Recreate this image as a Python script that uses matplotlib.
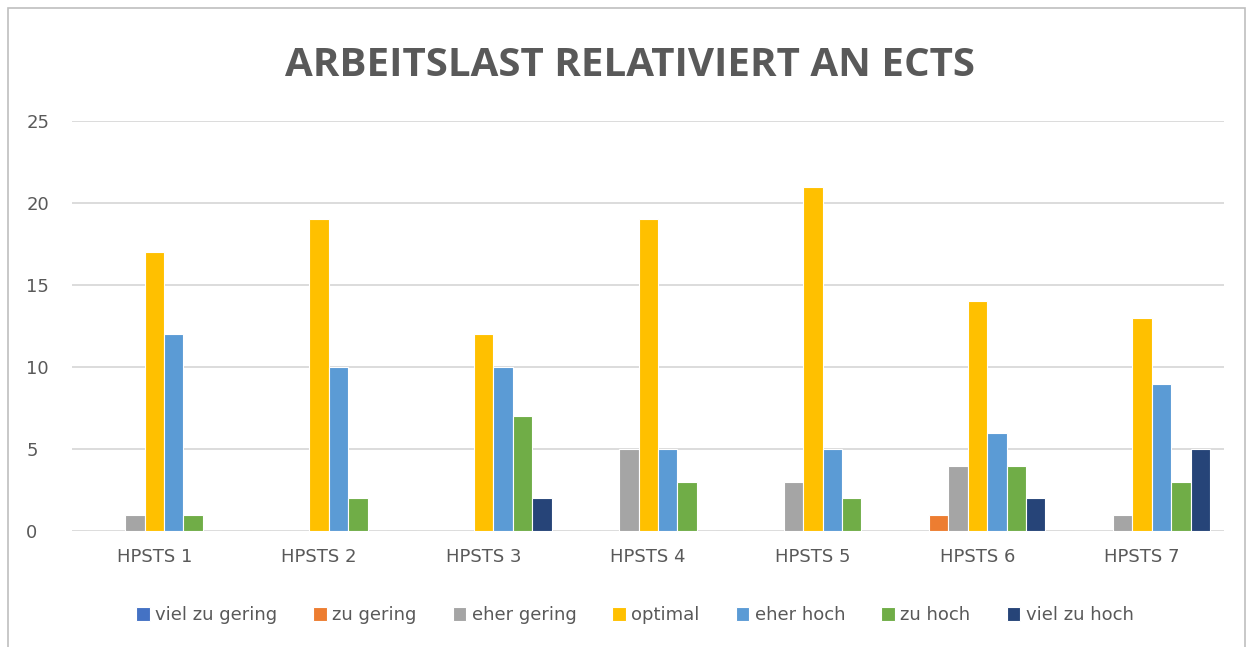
import numpy as np
import matplotlib.pyplot as plt
from matplotlib.patches import Rectangle

categories = ['HPSTS 1', 'HPSTS 2', 'HPSTS 3', 'HPSTS 4', 'HPSTS 5', 'HPSTS 6', 'HPSTS 7']
series = ['viel zu gering', 'zu gering', 'eher gering', 'optimal', 'eher hoch', 'zu hoch', 'viel zu hoch']
viel_zu_gering = [0, 0, 0, 0, 0, 0, 0]
zu_gering = [0, 0, 0, 0, 0, 1, 0]
eher_gering = [1, 0, 0, 5, 3, 4, 1]
optimal = [17, 19, 12, 19, 21, 14, 13]
eher_hoch = [12, 10, 10, 5, 5, 6, 9]
zu_hoch = [1, 2, 7, 3, 2, 4, 3]
viel_zu_hoch = [0, 0, 2, 0, 0, 2, 5]
colors = ['#4472C4', '#ED7D31', '#A5A5A5', '#FFC000', '#5B9BD5', '#70AD47', '#264478']

values = [viel_zu_gering, zu_gering, eher_gering, optimal, eher_hoch, zu_hoch, viel_zu_hoch]
txt = '#595959'

fig = plt.figure(figsize=(12.52, 6.47), dpi=100)
ax = fig.add_axes([0.0575, 0.179, 0.9205, 0.634])

x = np.arange(len(categories))
slot = 0.118
for i, (name, vals, c) in enumerate(zip(series, values, colors)):
    ax.bar(x + (i - 3) * slot, vals, width=slot, color=c, edgecolor='white',
           linewidth=0.8, label=name, zorder=3)

ax.set_xlim(-0.5, len(categories) - 0.5)
ax.set_ylim(0, 25)
ax.set_yticks([0, 5, 10, 15, 20, 25])
ax.set_xticks(x)
ax.set_xticklabels(categories)
ax.yaxis.grid(True, color='#D9D9D9', linewidth=1.3, zorder=0)
for s in ax.spines.values():
    s.set_visible(False)
ax.tick_params(length=0, labelsize=13, labelcolor=txt)
ax.tick_params(axis='x', pad=12)
ax.tick_params(axis='y', pad=33)
for lbl in ax.get_yticklabels():
    lbl.set_horizontalalignment('left')

fig.text(0.503, 0.899, 'ARBEITSLAST RELATIVIERT AN ECTS', ha='center', va='center',
         fontsize=29, fontweight='bold', color=txt, family='Open Sans')

leg = fig.legend(loc='center', bbox_to_anchor=(0.507, 0.049), ncol=7, frameon=False,
                 fontsize=13, handlelength=0.75, handleheight=0.75, handletextpad=0.3,
                 columnspacing=2.0)
for t in leg.get_texts():
    t.set_color(txt)

fig.patches.append(Rectangle((8 / 1252, -0.01), 1237 / 1252, 1 - 8 / 647 + 0.01,
                             transform=fig.transFigure, fill=False,
                             edgecolor='#BFBFBF', linewidth=1.2))

fig.savefig('out.png', dpi=100)
